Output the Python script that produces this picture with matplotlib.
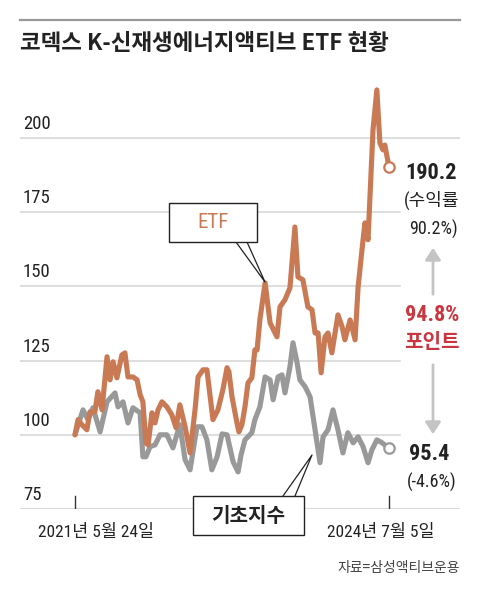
import matplotlib
matplotlib.use("Agg")
import matplotlib.pyplot as plt
from matplotlib import font_manager as fm
from matplotlib.patches import FancyArrowPatch, Rectangle

available = {f.name for f in fm.fontManager.ttflist}
narrow = next((n for n in ['Roboto Condensed', 'Liberation Sans Narrow', 'Open Sans Condensed',
                           'Noto Sans Condensed', 'Roboto'] if n in available), 'DejaVu Sans')
plt.rcParams['font.family'] = [narrow, 'Noto Sans CJK KR', 'DejaVu Sans']
KR = ['Noto Sans CJK KR', 'DejaVu Sans']

# ---- data (days since 2021-05-24) ----
etf_days = [0, 11, 25, 43, 54, 72, 83, 98, 116, 127, 138, 152, 170, 181, 192, 210, 225, 236, 246, 257,
            265, 279, 290, 301, 315, 333, 351, 366, 380, 399, 417, 435, 446, 464, 478, 486, 500, 518, 536, 551,
            558, 569, 587, 594, 605, 616, 627, 641, 652, 660, 670, 689, 707, 732, 743, 761, 779, 797, 808, 826,
            844, 859, 870, 881, 892, 906, 917, 931, 953, 968, 978, 997, 1015, 1026, 1044, 1051, 1062, 1069, 1080, 1094,
            1105, 1116, 1123, 1138]
etf_values = [100.0, 105.1, 103.4, 101.7, 107.7, 107.7, 114.5, 108.4, 126.3, 118.5, 124.6, 119.2, 126.9, 127.6, 119.5, 119.5, 118.5, 113.5, 111.1, 97.3,
              96.6, 107.4, 104.0, 108.4, 111.1, 109.4, 106.7, 102.4, 110.1, 102.7, 93.9, 108.4, 119.5, 121.9, 121.9, 115.8, 105.1, 108.4, 115.2, 122.6,
              121.2, 112.8, 104.0, 101.0, 103.4, 109.4, 117.5, 119.2, 128.6, 128.6, 138.7, 151.2, 137.7, 133.0, 143.1, 145.5, 149.5, 170.0, 153.2, 152.2,
              143.1, 142.1, 134.3, 134.3, 120.9, 133.0, 134.3, 127.6, 140.4, 136.4, 132.0, 138.7, 132.0, 149.8, 165.7, 171.4, 165.7, 180.1, 202.7, 216.2,
              198.3, 196.0, 197.6, 190.2]

idx_days = [0, 29, 47, 65, 91, 116, 145, 156, 174, 192, 210, 236, 246, 257, 272, 290, 308, 333, 355, 380,
            399, 417, 442, 460, 478, 496, 515, 533, 551, 573, 591, 602, 616, 641, 652, 670, 689, 707, 718, 736,
            750, 761, 779, 790, 805, 815, 834, 852, 870, 888, 899, 917, 935, 953, 971, 989, 1008, 1026, 1044, 1062,
            1076, 1094, 1113, 1131, 1138]
idx_values = [100.0, 108.4, 105.1, 109.1, 101.0, 111.1, 114.1, 109.4, 111.1, 104.0, 109.1, 107.4, 92.6, 92.6, 96.0, 96.6, 100.0, 100.0, 95.6, 103.4,
              91.6, 88.2, 102.7, 102.7, 98.3, 88.2, 92.6, 100.3, 100.0, 90.9, 87.5, 93.3, 98.3, 100.7, 105.1, 109.4, 119.5, 118.5, 111.8, 119.5,
              120.2, 114.1, 122.9, 131.0, 124.2, 118.5, 116.2, 112.8, 101.7, 90.6, 99.3, 101.7, 108.4, 101.7, 93.9, 100.7, 97.3, 99.3, 96.0, 90.6,
              94.9, 98.3, 97.3, 96.0, 95.4]

y_ticks = [75, 100, 125, 150, 175, 200]
start_label = "2021년 5월 24일"
end_label = "2024년 7월 5일"
title = "코덱스 K-신재생에너지액티브 ETF 현황"
source = "자료=삼성액티브운용"

ORANGE = "#c97a55"
GRAY = "#999999"
RED = "#c9363f"
DARK = "#222222"

W, H = 480, 594
fig = plt.figure(figsize=(W / 100, H / 100), dpi=100)


def fx(x):
    return x / W


def fy(y):
    return 1 - y / H


# axes: x px 20..460, y px 80..509
ax = fig.add_axes([fx(20), fy(509), fx(460) - fx(20), fy(80) - fy(509)])
px_per_day = 314 / 1138
ax.set_xlim(-55 / px_per_day, 1138 + 71 / px_per_day)
ax.set_ylim(75, 100 + (435 - 80) / 2.97)
ax.axis('off')

# gridlines
for v in y_ticks[1:]:
    xmax = 1.0 if v == 200 else (400 - 20) / 440
    ax.axhline(v, xmin=0, xmax=xmax, color="#d4d4d4", lw=1.1, zorder=1)
ax.axhline(75, color="#444444", lw=1.0, zorder=1)

# y tick labels
for v in y_ticks:
    ax.annotate(str(v), xy=(0, v), xycoords=('axes fraction', 'data'),
                xytext=(3, 5), textcoords='offset pixels', ha='left', va='bottom',
                fontsize=13.5, color=DARK)

# x ticks
for d in (0, 1138):
    ax.plot([d, d], [75, 75 + 13 / 2.97], color="#333333", lw=1.0, zorder=2)

# lines
ax.plot(idx_days, idx_values, color=GRAY, lw=3.7, solid_joinstyle='round', solid_capstyle='round', zorder=3)
ax.plot(etf_days, etf_values, color=ORANGE, lw=3.7, solid_joinstyle='round', solid_capstyle='round', zorder=4)
ax.plot([idx_days[-1]], [idx_values[-1]], 'o', ms=7.5, mfc='white', mec=GRAY, mew=1.6, zorder=5)
ax.plot([etf_days[-1]], [etf_values[-1]], 'o', ms=7.5, mfc='white', mec=ORANGE, mew=1.6, zorder=5)

# top rule and title
fig.add_artist(plt.Line2D([fx(20), fx(460)], [fy(20), fy(20)], color="#999999", lw=1.6))
fig.text(fx(20), fy(43), title, fontsize=16.2, fontweight='bold', color=DARK,
         family=KR, ha='left', va='center')

# x labels
fig.text(fx(96), fy(532), start_label, fontsize=12.5, color=DARK, ha='center', va='center')
fig.text(fx(381), fy(532), end_label, fontsize=12.5, color=DARK, ha='center', va='center')

# ETF callout
fig.add_artist(plt.Line2D([fx(236), fx(265), fx(247)], [fy(242), fy(282), fy(242)], color="#222222", lw=0.9))
fig.add_artist(Rectangle((fx(169), fy(242)), fx(257) - fx(169), fy(203) - fy(242),
                         transform=fig.transFigure, facecolor='white', edgecolor='#222222', lw=1.0, zorder=6))
fig.text(fx(213), fy(223), "ETF", fontsize=15, color=ORANGE, ha='center', va='center', zorder=7)

# index callout
fig.add_artist(plt.Line2D([fx(283), fx(312), fx(295)], [fy(496), fy(455), fy(496)], color="#222222", lw=0.9))
fig.add_artist(Rectangle((fx(193), fy(535)), fx(304) - fx(193), fy(496) - fy(535),
                         transform=fig.transFigure, facecolor='white', edgecolor='#222222', lw=1.0, zorder=6))
fig.text(fx(248), fy(516), "기초지수", fontsize=14.5, fontweight='bold', color=DARK, ha='center', va='center',
         zorder=7, family=KR)

# right annotations
fig.text(fx(431), fy(173), "190.2", fontsize=16, fontweight='bold', color=DARK, ha='center', va='center')
fig.text(fx(432), fy(200), "(수익률", fontsize=13, color=DARK, ha='center', va='center')
fig.text(fx(433), fy(229), "90.2%)", fontsize=13, color=DARK, ha='center', va='center')
fig.text(fx(432), fy(315), "94.8%", fontsize=16, fontweight='bold', color=RED, ha='center', va='center')
fig.text(fx(432), fy(342), "포인트", fontsize=14.5, fontweight='bold', color=RED, ha='center', va='center',
         family=KR)
fig.text(fx(429), fy(454), "95.4", fontsize=16, fontweight='bold', color=DARK, ha='center', va='center')
fig.text(fx(432), fy(482), "(-4.6%)", fontsize=13, color=DARK, ha='center', va='center')

for y0, y1 in ((297, 245), (362, 437)):
    fig.add_artist(FancyArrowPatch((fx(433), fy(y0)), (fx(433), fy(y1)), transform=fig.transFigure,
                                   arrowstyle='-|>,head_length=4,head_width=2.6', color="#c4c4c4", lw=2.0,
                                   mutation_scale=1.8))

fig.text(fx(460), fy(568), source, fontsize=10, color="#444444", ha='right', va='center', family=KR)

fig.savefig("out.png", dpi=100)
